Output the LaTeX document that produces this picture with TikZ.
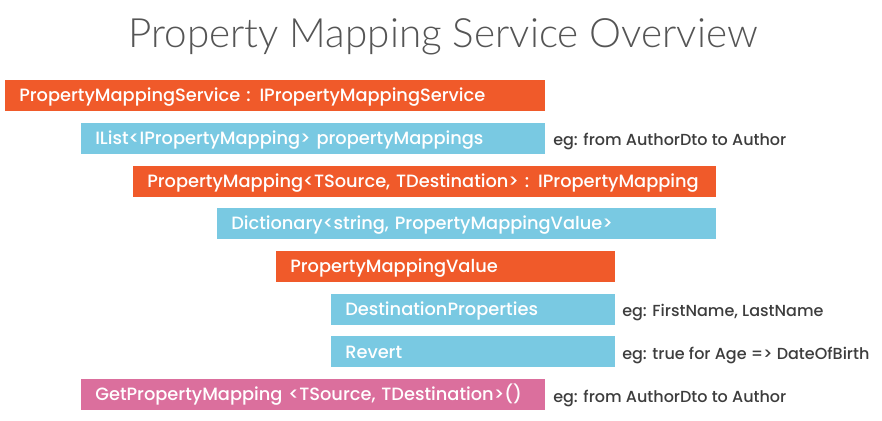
\documentclass[tikz,border=0pt]{standalone}
\usepackage{fontspec}
\setmainfont{Poppins}
\newfontfamily\boxfont{Poppins Medium}
\newfontfamily\titlefont{Lato Light}
\definecolor{orangeC}{HTML}{F05A2A}
\definecolor{blueC}{HTML}{79C9E2}
\definecolor{pinkC}{HTML}{DB6F9D}
\definecolor{noteC}{HTML}{3D3D3D}
\definecolor{titleC}{HTML}{555555}
\tikzset{
  bx/.style={anchor=north west, inner xsep=10.5pt, inner ysep=0pt,
    minimum height=23.25pt, text height=9.3pt, text depth=0pt, align=left,
    text=white, font=\boxfont\fontsize{13.35}{15}\selectfont},
  note/.style={anchor=base west, inner sep=0pt, text=noteC,
    font=\boxfont\fontsize{12}{15}\selectfont}
}
\begin{document}
\begin{tikzpicture}[x=0.75pt,y=-0.75pt]
\useasboundingbox[fill=white] (0,0) rectangle (882,421);
\node[anchor=base, inner sep=0pt, text=titleC, font=\titlefont\fontsize{30.3}{34}\selectfont] (title) at (443,47) {Property Mapping Service Overview};
\node[bx, fill=orangeC, text width=384pt] (b1) at (5,80) {PropertyMappingService : IPropertyMappingService};
\node[bx, fill=blueC, text width=327pt] (b2) at (81,122.7) {IList<IPropertyMapping> propertyMappings};
\node[bx, fill=orangeC, text width=416.25pt] (b3) at (133,165.4) {PropertyMapping<TSource, TDestination> : IPropertyMapping};
\node[bx, fill=blueC, text width=353.25pt] (b4) at (217,208) {Dictionary<string, PropertyMappingValue>};
\node[bx, fill=orangeC, text width=233.25pt] (b5) at (276,250.8) {PropertyMappingValue};
\node[bx, fill=blueC, text width=192pt] (b6) at (331,293.5) {DestinationProperties};
\node[bx, fill=blueC, text width=192pt] (b7) at (331,336.2) {Revert};
\node[bx, fill=pinkC, text width=327pt] (b8) at (81,379) {GetPropertyMapping <TSource, TDestination>()};
\node[note] (n1) at (553,145.7) {eg: from AuthorDto to Author};
\node[note] (n2) at (622,316.5) {eg: FirstName, LastName};
\node[note] (n3) at (622,359.2) {eg: true for Age => DateOfBirth};
\node[note] (n4) at (553,402) {eg: from AuthorDto to Author};
\end{tikzpicture}
\end{document}
